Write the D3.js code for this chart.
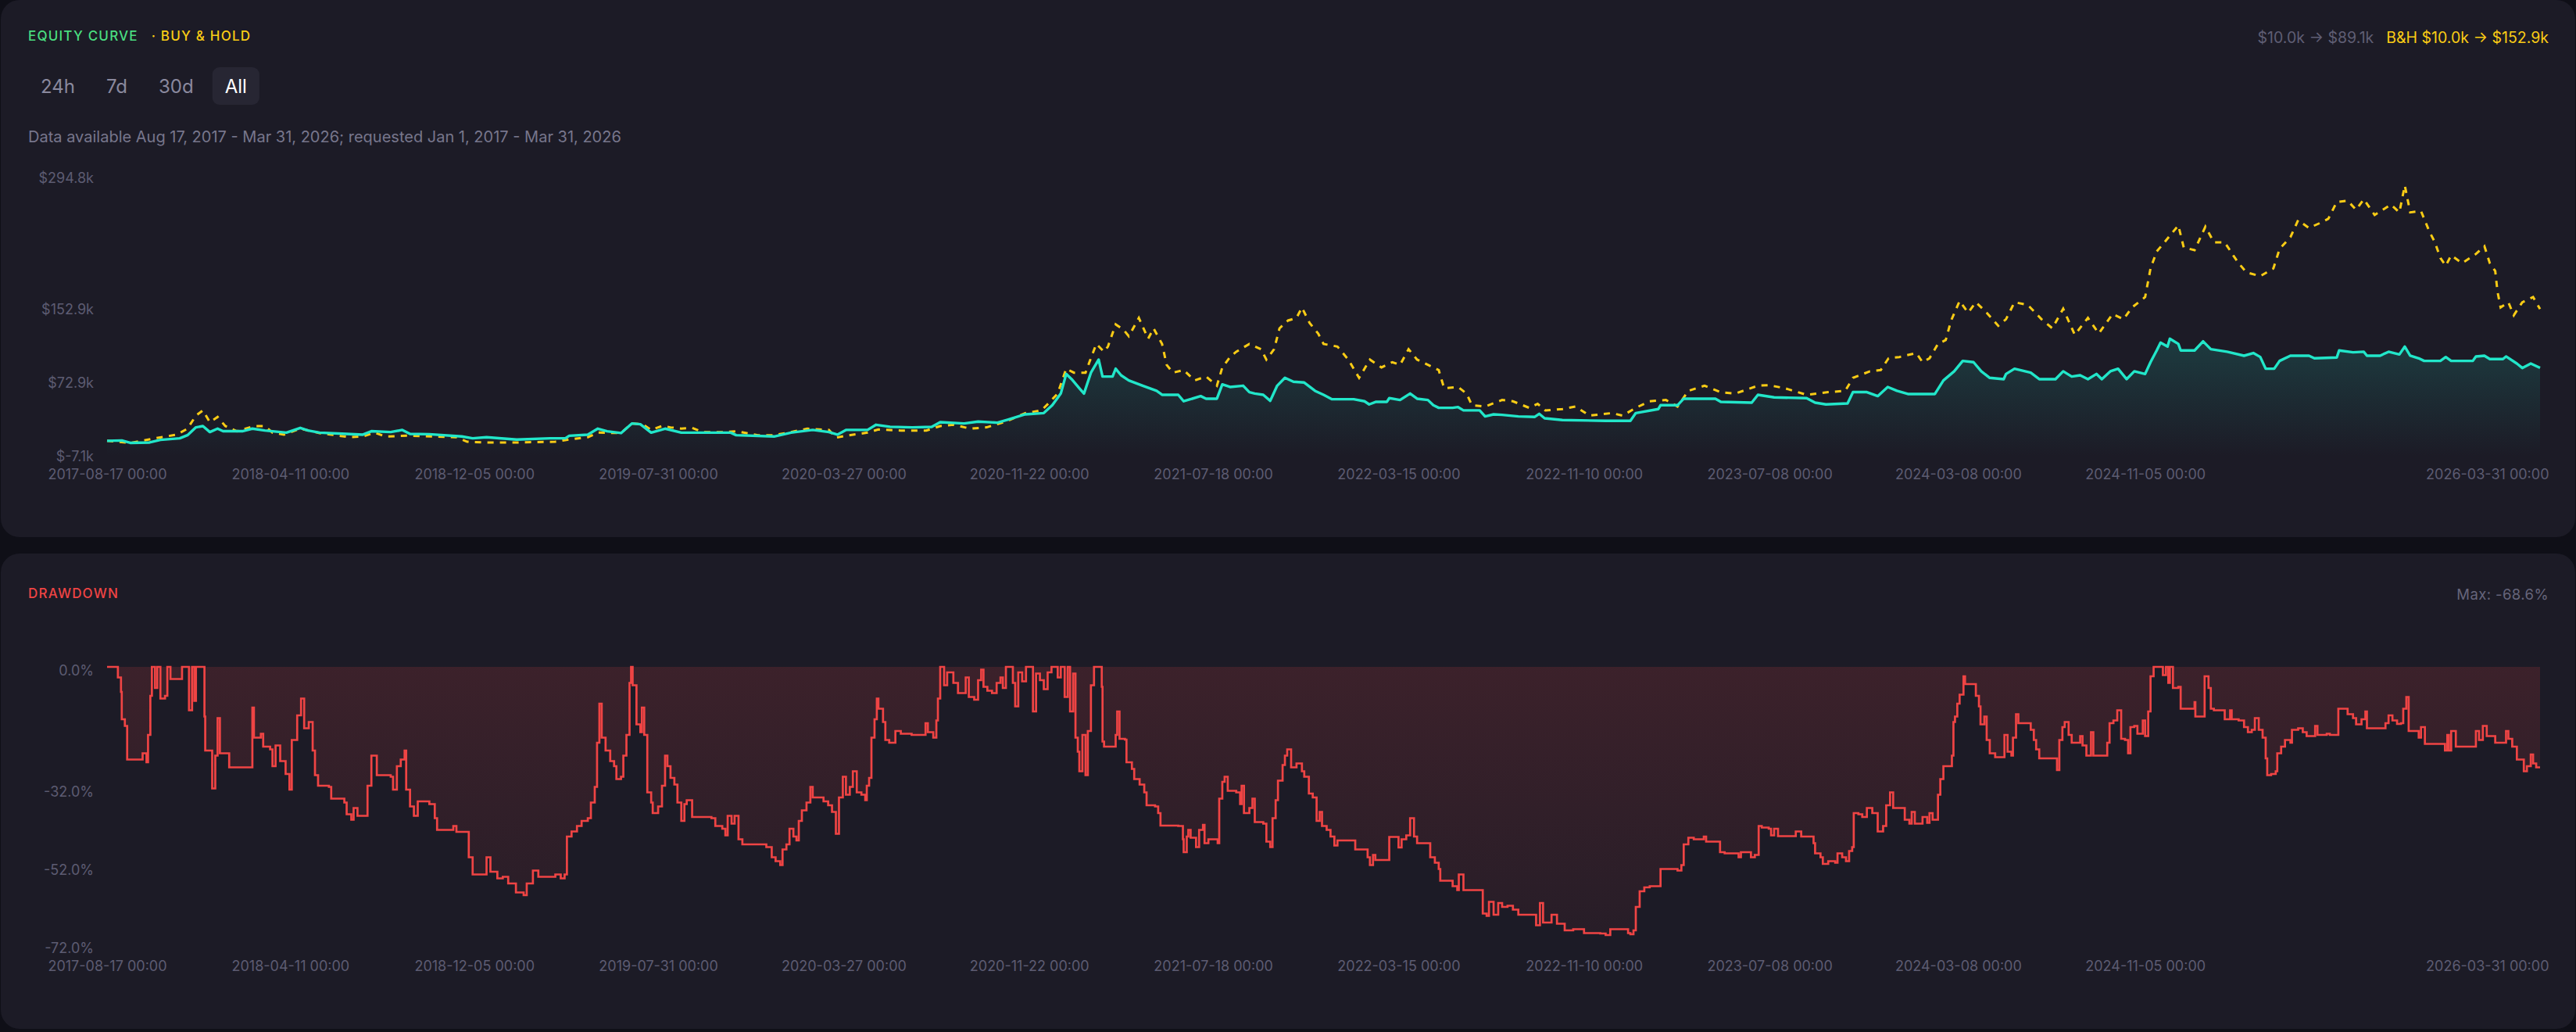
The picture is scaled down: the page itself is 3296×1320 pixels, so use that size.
<!DOCTYPE html>
<html>
<head>
<meta charset="utf-8">
<script src="https://cdn.jsdelivr.net/npm/d3@7"></script>
<style>
  html, body { margin: 0; padding: 0; background: #0f0f17; }
  svg { display: block; font-family: Inter, "Noto Sans", sans-serif; }
</style>
</head>
<body>
<div id="chart"></div>
<script>
// ---- data ----
// every point is [days since first day, value]
var firstDay = "2017-08-17";
var lastDay = "2026-03-31";
var xTickDates = ["2017-08-17", "2018-04-11", "2018-12-05", "2019-07-31", "2020-03-27", "2020-11-22",
  "2021-07-18", "2022-03-15", "2022-11-10", "2023-07-08", "2024-03-08", "2024-11-05", "2026-03-31"];
var equityTicks = [-7.1, 72.9, 152.9, 294.8];   // $k
var ddTicks = [0, -32, -52, -72];               // %
var rangeButtons = ["24h", "7d", "30d", "All"];
var activeRange = "All";

// strategy equity, $k
var equityCurve = [
  [0,10.0],[19,10.4],[30,7.8],[55,8.2],[69,11.0],[94,12.7],[104,16.1],[115,24.6],[124,26.0],[133,19.5],
  [143,23.2],[150,20.4],[175,20.4],[188,23.2],[204,21.2],[232,18.9],[250,24.0],[260,21.2],[275,18.9],[310,17.5],
  [331,16.7],[342,20.4],[367,19.5],[382,21.8],[392,17.5],[417,17.2],[459,14.7],[473,12.7],[491,13.9],[530,11.3],
  [573,12.7],[593,12.7],[598,15.5],[622,16.7],[635,23.2],[647,20.4],[665,18.4],[679,28.8],[690,28.0],[704,18.9],
  [722,23.2],[743,18.9],[807,18.9],[814,16.1],[863,14.7],[885,18.9],[913,21.8],[934,19.5],[945,16.7],[956,21.8],
  [984,21.8],[995,27.4],[1013,25.2],[1042,24.6],[1067,25.1],[1078,30.2],[1109,28.8],[1127,30.8],[1152,29.7],[1166,33.1],
  [1188,38.7],[1212,40.1],[1223,48.6],[1234,61.3],[1241,82.5],[1248,76.9],[1258,67.0],[1264,61.3],[1273,83.9],[1283,98.1],
  [1288,79.7],[1301,79.7],[1305,88.2],[1312,81.1],[1322,75.5],[1340,69.8],[1358,64.2],[1365,59.9],[1386,59.9],[1393,52.9],
  [1415,58.5],[1422,55.7],[1436,55.7],[1443,71.2],[1453,68.4],[1470,69.8],[1478,62.7],[1485,61.3],[1496,59.9],[1505,53.4],
  [1514,69.8],[1524,78.3],[1535,74.1],[1549,73.2],[1563,64.2],[1574,59.9],[1585,55.1],[1613,55.1],[1627,52.9],[1633,49.5],
  [1642,52.3],[1656,52.3],[1659,56.3],[1673,54.3],[1686,61.3],[1695,55.7],[1709,54.3],[1716,48.6],[1723,45.8],[1741,45.8],
  [1748,46.6],[1755,43.0],[1776,43.0],[1783,36.5],[1794,38.7],[1805,38.2],[1826,36.5],[1847,35.9],[1853,39.3],[1860,34.5],
  [1883,32.5],[1939,31.7],[1971,31.7],[1978,40.1],[2007,44.4],[2010,48.6],[2032,48.6],[2040,55.7],[2081,55.7],[2088,52.3],
  [2128,51.4],[2136,59.9],[2157,57.1],[2199,56.3],[2210,51.4],[2224,49.5],[2252,50.6],[2259,62.8],[2277,62.8],[2291,58.5],
  [2304,68.4],[2316,64.2],[2330,60.8],[2365,60.8],[2376,75.5],[2390,85.4],[2401,96.7],[2415,95.3],[2425,85.4],[2436,78.3],
  [2454,76.9],[2457,82.5],[2468,88.2],[2489,83.9],[2500,76.9],[2521,76.9],[2531,85.4],[2542,79.7],[2553,81.1],[2563,76.9],
  [2574,82.5],[2581,76.9],[2592,85.4],[2602,88.2],[2613,76.9],[2623,85.4],[2637,82.5],[2644,95.3],[2652,108.0],[2657,116.5],
  [2666,112.2],[2669,120.7],[2680,115.1],[2683,108.0],[2701,108.0],[2712,117.9],[2722,109.4],[2743,106.6],[2765,102.3],[2777,105.2],
  [2786,100.9],[2793,88.2],[2804,88.2],[2811,96.7],[2825,102.3],[2849,102.3],[2856,99.5],[2885,100.4],[2888,108.0],[2906,106.0],
  [2920,106.6],[2924,102.3],[2941,102.3],[2952,106.6],[2966,103.7],[2973,112.2],[2980,102.3],[2991,99.5],[2998,96.7],[3019,96.7],
  [3026,100.9],[3033,96.7],[3061,96.7],[3065,101.5],[3076,102.3],[3083,98.7],[3100,98.7],[3104,101.5],[3118,93.8],[3125,89.0],
  [3136,93.8],[3148,89.1]
];

// buy & hold, $k
var buyHold = [
  [0,10.0],[30,7.6],[62,12.7],[90,16.7],[104,23.2],[115,37.3],[124,43.0],[133,30.2],[143,35.9],[153,26.0],
  [168,20.4],[190,26.0],[204,26.0],[214,18.9],[229,16.7],[250,23.2],[275,18.4],[314,13.9],[331,14.7],[346,18.9],
  [360,14.7],[388,15.5],[424,14.7],[452,13.9],[466,9.0],[488,8.2],[530,8.2],[580,9.0],[594,11.0],[622,13.9],
  [635,18.9],[665,18.4],[679,28.8],[693,28.0],[704,21.8],[718,26.0],[729,24.6],[743,23.2],[757,24.0],[771,19.5],
  [800,19.5],[814,20.4],[842,16.1],[863,16.1],[885,19.5],[906,23.2],[934,21.8],[943,13.3],[956,15.5],[984,18.9],
  [998,22.3],[1027,21.2],[1060,21.2],[1078,26.0],[1095,27.4],[1117,23.2],[1138,24.6],[1163,30.8],[1188,40.1],[1209,43.0],
  [1219,51.4],[1230,61.3],[1241,88.2],[1251,83.9],[1266,83.9],[1271,95.3],[1280,115.1],[1290,106.6],[1295,112.2],[1305,136.3],
  [1315,130.6],[1322,123.5],[1335,143.3],[1347,120.7],[1354,132.0],[1365,115.1],[1371,92.4],[1379,83.9],[1393,86.8],[1407,75.5],
  [1422,79.7],[1436,69.8],[1443,89.6],[1453,100.9],[1461,106.6],[1478,115.1],[1493,109.4],[1500,98.1],[1510,109.4],[1517,132.0],
  [1528,140.5],[1539,143.3],[1546,154.6],[1556,137.7],[1567,126.4],[1574,115.1],[1592,112.2],[1606,98.1],[1620,78.3],[1634,98.1],
  [1649,89.6],[1663,95.3],[1673,92.4],[1684,109.4],[1695,98.1],[1709,92.4],[1723,86.8],[1730,67.0],[1748,68.4],[1759,61.3],
  [1766,48.6],[1783,47.2],[1805,54.3],[1819,52.9],[1840,45.8],[1851,50.1],[1861,43.0],[1883,44.4],[1900,47.2],[1918,37.3],
  [1947,40.1],[1961,37.3],[1978,45.8],[1996,52.9],[2017,54.3],[2032,47.2],[2046,64.2],[2067,69.8],[2088,62.7],[2107,61.3],
  [2136,69.8],[2150,70.4],[2171,67.0],[2199,59.9],[2227,62.8],[2249,64.2],[2259,78.3],[2281,85.4],[2295,86.8],[2305,99.5],
  [2319,100.9],[2341,105.2],[2349,95.3],[2358,99.5],[2369,115.1],[2379,119.3],[2386,140.5],[2397,161.7],[2408,149.0],[2418,160.3],
  [2432,149.0],[2447,134.8],[2457,141.9],[2468,160.3],[2485,157.5],[2503,141.9],[2517,132.0],[2531,153.2],[2546,125.0],[2563,143.3],
  [2577,126.4],[2595,147.6],[2609,141.9],[2620,154.6],[2637,165.9],[2644,197.0],[2652,215.4],[2662,225.3],[2680,243.7],[2687,219.7],
  [2701,216.8],[2715,242.3],[2726,225.3],[2740,225.3],[2751,211.2],[2758,202.7],[2768,192.8],[2786,188.6],[2803,197.0],[2811,218.2],
  [2825,230.9],[2835,249.3],[2849,240.9],[2864,246.5],[2874,250.8],[2885,269.1],[2899,270.5],[2910,260.6],[2920,272.0],[2934,255.0],
  [2955,266.3],[2966,257.8],[2973,287.0],[2980,257.8],[2994,259.2],[3005,236.6],[3012,225.3],[3019,208.4],[3026,199.9],[3033,211.2],
  [3047,202.7],[3065,212.6],[3076,221.1],[3083,202.7],[3090,194.2],[3093,171.6],[3097,154.6],[3107,160.3],[3114,146.2],[3125,160.3],
  [3139,165.9],[3148,152.9]
];

// strategy drawdown, %
var drawdown = [
  [0,0],[12,0],[14,-2.7],[18,-6.4],[19,-13.4],[23,-15.1],[26,-23.7],[44,-23.7],[46,-22.1],[51,-24.4],
  [53,-17.4],[56,-7.4],[58,0],[62,-5.4],[65,0],[69,-8.1],[75,-7.4],[78,0],[82,-3.1],[94,-3.1],
  [97,0],[104,0],[106,-11.1],[110,0],[113,-8.7],[115,0],[120,0],[126,-12.7],[127,-21.4],[133,-21.4],
  [136,-31.1],[140,-22.7],[143,-13.1],[146,-22.1],[155,-22.1],[158,-25.7],[183,-25.7],[188,-10.4],[190,-18.1],[199,-17.1],
  [202,-20.4],[211,-21.1],[214,-25.4],[218,-20.1],[224,-24.1],[231,-27.4],[236,-31.4],[239,-18.7],[246,-12.4],[251,-8.1],
  [255,-15.7],[261,-14.1],[266,-21.4],[269,-27.7],[273,-30.4],[287,-30.7],[290,-33.7],[307,-34.7],[310,-37.7],[316,-39.1],
  [319,-36.1],[324,-38.1],[335,-38.1],[337,-30.4],[342,-22.7],[349,-27.7],[367,-28.1],[370,-31.4],[375,-25.4],[380,-23.7],
  [385,-21.4],[387,-31.4],[392,-35.7],[397,-38.1],[402,-34.4],[417,-35.1],[424,-38.7],[427,-41.7],[445,-41.7],[448,-40.7],
  [452,-42.2],[465,-42.2],[468,-48.7],[473,-53.1],[488,-53.1],[491,-48.7],[496,-52.4],[505,-54.1],[512,-53.7],[519,-55.4],
  [529,-57.7],[539,-58.4],[543,-55.4],[551,-52.1],[558,-53.7],[580,-53.1],[587,-54.1],[592,-53.1],[595,-43.4],[601,-42.1],
  [608,-40.7],[614,-39.4],[622,-38.7],[626,-34.7],[631,-30.7],[634,-19.4],[637,-9.4],[640,-18.1],[645,-21.4],[651,-24.1],
  [656,-25.4],[659,-28.7],[665,-28.1],[668,-22.7],[672,-17.4],[676,-4.1],[678,0],[680,-4.7],[685,-14.7],[690,-16.7],
  [692,-10.4],[695,-17.4],[699,-32.1],[704,-34.7],[706,-37.4],[713,-35.7],[718,-30.4],[722,-22.7],[725,-25.4],[729,-28.4],
  [734,-30.1],[738,-34.7],[743,-39.4],[747,-35.1],[750,-34.1],[757,-38.4],[782,-38.7],[787,-40.7],[796,-41.4],[800,-43.1],
  [803,-38.1],[808,-40.1],[812,-38.1],[817,-44.1],[822,-45.4],[853,-46.1],[860,-48.7],[865,-49.7],[871,-50.7],[874,-46.7],
  [879,-45.4],[883,-41.4],[888,-43.4],[892,-44.4],[895,-39.4],[899,-36.7],[905,-34.7],[910,-30.7],[913,-33.4],[927,-34.4],
  [933,-35.4],[938,-37.1],[943,-42.7],[947,-33.4],[952,-28.1],[956,-32.7],[961,-30.7],[965,-26.7],[970,-32.1],[976,-32.7],
  [981,-34.1],[983,-30.4],[986,-28.4],[989,-18.1],[993,-13.4],[996,-8.1],[998,-10.7],[1004,-14.1],[1007,-18.7],[1012,-19.4],
  [1020,-16.4],[1027,-17.1],[1041,-17.4],[1055,-17.4],[1059,-14.4],[1062,-16.7],[1069,-18.1],[1073,-13.7],[1075,-8.1],[1078,0],
  [1083,-4.7],[1087,-1.4],[1095,-4.1],[1101,-6.7],[1108,-6.7],[1111,-2.7],[1115,-7.7],[1122,-8.4],[1127,-3.4],[1131,-0.7],
  [1134,-5.1],[1139,-6.1],[1145,-6.7],[1151,-4.1],[1156,-2.7],[1159,-5.4],[1163,0],[1170,0],[1172,-4.1],[1175,-10.1],
  [1179,-1.4],[1184,-3.7],[1189,0],[1196,0],[1198,-11.4],[1202,-1.7],[1207,-3.4],[1212,-5.7],[1217,-1.4],[1222,0],
  [1230,-2.7],[1234,0],[1239,-7.7],[1243,0],[1246,-11.4],[1250,-1.7],[1253,-18.1],[1256,-21.7],[1258,-26.7],[1262,-17.4],
  [1266,-27.7],[1269,-16.4],[1273,-4.7],[1277,0],[1284,0],[1287,-5.1],[1288,-19.1],[1290,-20.4],[1301,-20.4],[1305,-17.4],
  [1307,-11.4],[1310,-18.4],[1317,-18.6],[1319,-24.4],[1326,-26.1],[1329,-28.7],[1336,-30.1],[1342,-32.1],[1345,-35.4],[1356,-35.7],
  [1360,-37.4],[1363,-40.6],[1386,-40.7],[1392,-44.1],[1393,-47.4],[1397,-43.4],[1399,-41.7],[1402,-43.7],[1409,-46.1],[1413,-41.7],
  [1418,-40.4],[1420,-45.1],[1425,-44.1],[1437,-45.1],[1439,-33.7],[1443,-29.4],[1446,-28.1],[1450,-31.7],[1461,-32.1],[1466,-35.1],
  [1468,-30.4],[1471,-37.4],[1478,-36.1],[1482,-33.7],[1485,-39.7],[1496,-40.1],[1500,-44.7],[1505,-46.1],[1508,-38.7],[1512,-34.1],
  [1515,-29.1],[1521,-25.1],[1524,-22.7],[1527,-21.1],[1532,-25.7],[1539,-24.7],[1546,-26.7],[1549,-28.1],[1555,-32.4],[1560,-33.4],
  [1565,-39.4],[1569,-37.1],[1572,-40.7],[1578,-41.7],[1583,-43.4],[1588,-45.7],[1592,-44.4],[1610,-44.4],[1615,-46.7],[1627,-46.7],
  [1631,-48.7],[1634,-50.7],[1638,-48.1],[1641,-49.4],[1656,-49.4],[1659,-43.5],[1671,-46.2],[1675,-44.1],[1681,-43.1],[1686,-38.7],
  [1691,-43.4],[1695,-45.1],[1709,-45.1],[1712,-48.7],[1718,-50.1],[1723,-51.7],[1725,-54.7],[1737,-54.7],[1741,-56.1],[1747,-57.1],
  [1749,-53.1],[1755,-57.1],[1775,-57.1],[1780,-63.1],[1785,-63.7],[1788,-60.1],[1794,-63.4],[1800,-60.4],[1805,-61.4],[1812,-61.1],
  [1819,-62.1],[1826,-63.4],[1846,-63.4],[1849,-66.1],[1854,-60.4],[1858,-65.4],[1869,-63.4],[1876,-65.7],[1886,-67.4],[1897,-67.1],
  [1911,-68.1],[1932,-68.2],[1939,-68.6],[1945,-67.1],[1968,-68.1],[1971,-68.4],[1975,-67.4],[1978,-61.4],[1983,-57.4],[1989,-56.4],
  [1996,-56.1],[2009,-56.1],[2010,-51.7],[2032,-52.1],[2037,-50.7],[2040,-45.4],[2046,-43.7],[2053,-44.1],[2066,-43.4],[2069,-44.7],
  [2081,-44.7],[2087,-47.4],[2093,-47.7],[2107,-47.7],[2111,-48.7],[2114,-47.4],[2127,-48.7],[2132,-48.1],[2137,-40.7],[2141,-41.1],
  [2150,-41.4],[2153,-43.1],[2157,-41.4],[2162,-43.3],[2184,-43.3],[2185,-42.1],[2192,-43.4],[2203,-43.4],[2208,-45.1],[2210,-47.7],
  [2217,-48.7],[2220,-50.4],[2227,-49.7],[2236,-50.1],[2239,-47.7],[2245,-48.7],[2250,-49.7],[2254,-47.1],[2258,-46.1],[2260,-37.4],
  [2266,-37.7],[2271,-38.4],[2277,-36.1],[2284,-37.4],[2291,-42.1],[2298,-40.7],[2302,-35.4],[2307,-32.1],[2311,-36.1],[2319,-36.1],
  [2326,-39.1],[2332,-40.1],[2335,-37.1],[2339,-40.1],[2349,-38.4],[2355,-39.9],[2358,-37.4],[2362,-39.1],[2367,-39.1],[2369,-32.7],
  [2372,-28.7],[2376,-25.4],[2384,-25.4],[2387,-22.7],[2389,-14.1],[2391,-12.7],[2394,-9.4],[2397,-7.1],[2402,-2.4],[2404,-4.4],
  [2415,-4.4],[2418,-7.4],[2422,-10.1],[2424,-14.7],[2429,-12.7],[2432,-18.7],[2436,-22.1],[2443,-23.1],[2454,-23.1],[2455,-17.4],
  [2459,-21.7],[2464,-22.7],[2466,-18.1],[2470,-12.1],[2473,-14.4],[2485,-14.4],[2489,-16.1],[2493,-18.7],[2496,-21.1],[2500,-23.4],
  [2521,-23.4],[2523,-26.4],[2526,-18.7],[2530,-15.4],[2533,-14.1],[2538,-17.4],[2542,-19.4],[2549,-19.4],[2553,-17.7],[2556,-20.1],
  [2561,-22.7],[2567,-16.7],[2570,-22.7],[2584,-22.7],[2588,-19.4],[2591,-14.4],[2596,-13.7],[2601,-11.1],[2606,-18.4],[2611,-18.7],
  [2615,-22.1],[2618,-15.4],[2623,-15.1],[2627,-17.1],[2630,-17.1],[2634,-13.7],[2637,-17.7],[2641,-11.4],[2644,-2.4],[2648,0],
  [2655,0],[2660,-2.1],[2664,0],[2667,-4.1],[2669,0],[2673,-5.4],[2680,-5.1],[2683,-10.7],[2698,-10.7],[2701,-9.0],
  [2702,-12.7],[2708,-12.7],[2714,-2.4],[2719,-5.4],[2722,-10.7],[2726,-11.1],[2736,-11.1],[2740,-13.4],[2747,-11.1],[2749,-13.4],
  [2758,-13.7],[2765,-15.4],[2770,-16.7],[2775,-16.1],[2779,-13.1],[2784,-16.1],[2789,-18.1],[2793,-23.4],[2795,-27.7],[2800,-27.4],
  [2806,-26.7],[2808,-22.1],[2813,-20.4],[2818,-18.7],[2825,-19.4],[2827,-16.1],[2835,-15.7],[2841,-16.7],[2846,-17.7],[2853,-17.7],
  [2857,-15.1],[2860,-17.4],[2872,-17.1],[2876,-17.4],[2885,-17.4],[2887,-10.7],[2892,-10.7],[2899,-12.1],[2906,-13.1],[2910,-14.7],
  [2917,-13.4],[2922,-11.4],[2924,-15.7],[2941,-15.7],[2948,-14.4],[2952,-12.4],[2957,-13.7],[2963,-14.6],[2968,-14.4],[2971,-10.7],
  [2975,-7.7],[2978,-16.4],[2987,-16.4],[2991,-18.1],[2994,-15.4],[2999,-19.7],[3021,-19.7],[3025,-21.4],[3028,-17.4],[3030,-21.4],
  [3033,-16.4],[3039,-20.4],[3062,-20.4],[3065,-16.4],[3069,-18.7],[3074,-15.1],[3079,-17.7],[3088,-17.7],[3090,-19.4],[3100,-19.4],
  [3104,-16.4],[3107,-18.4],[3112,-20.4],[3118,-23.7],[3124,-23.7],[3127,-26.7],[3131,-25.4],[3136,-22.4],[3139,-24.7],[3143,-25.7],
  [3148,-25.7]
];

// ---- layout ----
var W = 3296, H = 1320;
var padL = 36, padR = 3261;
var parseDate = d3.timeParse("%Y-%m-%d");
var start = parseDate(firstDay);
function dayToDate(n) { return d3.timeDay.offset(start, n); }

var svg = d3.select("#chart").append("svg")
    .attr("width", W)
    .attr("height", H);

var defs = svg.append("defs");

// panels
svg.append("rect").attr("x", 1).attr("y", 0).attr("width", W - 2).attr("height", 687)
    .attr("rx", 24).attr("fill", "#1c1b26");
svg.append("rect").attr("x", 1).attr("y", 708).attr("width", W - 2).attr("height", 608)
    .attr("rx", 24).attr("fill", "#1c1b26");

var x = d3.scaleTime()
    .domain([start, parseDate(lastDay)])
    .range([137, 3250]);

var yEq = d3.scaleLinear()
    .domain(d3.extent(equityTicks))
    .range([584, 228]);

var yDd = d3.scaleLinear()
    .domain(d3.extent(ddTicks))
    .range([1213, 853]);

var fmtK = function(v) { return "$" + v.toFixed(1) + "k"; };

// ---- top header ----
var head = svg.append("text").attr("x", padL).attr("y", 46)
    .attr("dominant-baseline", "central")
    .style("font-size", "17px").style("letter-spacing", "1.2px").style("font-weight", 500);
head.append("tspan").attr("fill", "#4ade80").text("EQUITY CURVE");
head.append("tspan").attr("fill", "#facc15").attr("dx", 17).text("· BUY & HOLD");

var summary = svg.append("text").attr("x", padR).attr("y", 48)
    .attr("text-anchor", "end").attr("dominant-baseline", "central")
    .style("font-size", "19.5px");
summary.append("tspan").attr("fill", "#5f5e74")
    .text(fmtK(equityCurve[0][1]) + " → " + fmtK(equityCurve[equityCurve.length - 1][1]));
summary.append("tspan").attr("fill", "#facc15").attr("dx", 16)
    .text("B&H " + fmtK(buyHold[0][1]) + " → " + fmtK(buyHold[buyHold.length - 1][1]));

// range buttons
var bx = padL;
rangeButtons.forEach(function(lbl) {
  var g = svg.append("g");
  var t = g.append("text").attr("x", bx + 16).attr("y", 110)
      .attr("dominant-baseline", "central")
      .style("font-size", "24px")
      .attr("fill", lbl === activeRange ? "#ffffff" : "#8a899e")
      .text(lbl);
  var w = t.node().getComputedTextLength() + 32;
  if (lbl === activeRange) {
    g.insert("rect", "text").attr("x", bx).attr("y", 86).attr("width", w).attr("height", 48)
        .attr("rx", 9).attr("fill", "#272633");
  }
  bx += w + 8;
});

svg.append("text").attr("x", padL).attr("y", 175)
    .attr("dominant-baseline", "central")
    .style("font-size", "20px").attr("fill", "#77768c")
    .text("Data available Aug 17, 2017 - Mar 31, 2026; requested Jan 1, 2017 - Mar 31, 2026");

// ---- axes helpers ----
function styleAxis(g) {
  g.attr("font-family", null).attr("font-size", null);
  g.select(".domain").remove();
  g.selectAll("line").remove();
  g.selectAll("text").attr("fill", "#5d5c72").style("font-size", "18px");
}

function drawXAxis(yPos) {
  var g = svg.append("g")
      .attr("transform", "translate(0," + yPos + ")")
      .call(d3.axisBottom(x)
        .tickValues(xTickDates.map(parseDate))
        .tickFormat(d3.timeFormat("%Y-%m-%d %H:%M"))
        .tickSize(0).tickPadding(0));
  styleAxis(g);
  g.selectAll("text").attr("y", 0).attr("dy", "0.35em");
  // keep the last label inside the panel
  var lastTick = g.selectAll(".tick").filter(function(d, i, n) { return i === n.length - 1; });
  var lastX = x(parseDate(xTickDates[xTickDates.length - 1]));
  lastTick.select("text").attr("text-anchor", "end").attr("x", padR - lastX);
}

function drawYAxis(scale, ticks, fmt) {
  var g = svg.append("g")
      .attr("transform", "translate(120,0)")
      .call(d3.axisLeft(scale).tickValues(ticks).tickFormat(fmt).tickSize(0).tickPadding(0));
  styleAxis(g);
  return g;
}

// ---- equity chart ----
drawYAxis(yEq, equityTicks, fmtK);
drawXAxis(607);

var eqMax = d3.max(equityCurve, function(d) { return d[1]; });
var eqGrad = defs.append("linearGradient").attr("id", "eqFill")
    .attr("gradientUnits", "userSpaceOnUse")
    .attr("x1", 0).attr("x2", 0).attr("y1", yEq(eqMax)).attr("y2", yEq(equityTicks[0]));
eqGrad.append("stop").attr("offset", 0).attr("stop-color", "#22e6c9").attr("stop-opacity", 0.16);
eqGrad.append("stop").attr("offset", 1).attr("stop-color", "#22e6c9").attr("stop-opacity", 0);

var eqArea = d3.area()
    .x(function(d) { return x(dayToDate(d[0])); })
    .y0(yEq(equityTicks[0]))
    .y1(function(d) { return yEq(d[1]); });

svg.append("path").datum(equityCurve)
    .attr("d", eqArea)
    .attr("fill", "url(#eqFill)");

var eqLine = d3.line()
    .x(function(d) { return x(dayToDate(d[0])); })
    .y(function(d) { return yEq(d[1]); });

svg.append("path").datum(buyHold)
    .attr("d", eqLine)
    .attr("fill", "none")
    .attr("stroke", "#facc15")
    .attr("stroke-width", 3)
    .attr("stroke-dasharray", "8,8");

svg.append("path").datum(equityCurve)
    .attr("d", eqLine)
    .attr("fill", "none")
    .attr("stroke", "#22e6c9")
    .attr("stroke-width", 3.4)
    .attr("stroke-linejoin", "round");

// ---- drawdown chart ----
svg.append("text").attr("x", padL).attr("y", 759)
    .attr("dominant-baseline", "central")
    .style("font-size", "17px").style("letter-spacing", "1.2px").style("font-weight", 500)
    .attr("fill", "#ef4444")
    .text("DRAWDOWN");

var ddMin = d3.min(drawdown, function(d) { return d[1]; });
svg.append("text").attr("x", padR).attr("y", 760)
    .attr("text-anchor", "end").attr("dominant-baseline", "central")
    .style("font-size", "18.5px").style("letter-spacing", "0.4px").attr("fill", "#66657b")
    .text("Max: " + ddMin.toFixed(1) + "%");

var ddAxis = drawYAxis(yDd, ddTicks, function(v) { return v.toFixed(1) + "%"; });
// top label sits slightly below its line, as in the reference
ddAxis.selectAll(".tick").filter(function(d) { return d === 0; }).select("text").attr("y", 5);
drawXAxis(1236);

var ddGrad = defs.append("linearGradient").attr("id", "ddFill")
    .attr("gradientUnits", "userSpaceOnUse")
    .attr("x1", 0).attr("x2", 0).attr("y1", yDd(0)).attr("y2", yDd(ddTicks[ddTicks.length - 1]));
ddGrad.append("stop").attr("offset", 0).attr("stop-color", "#ef4444").attr("stop-opacity", 0.15);
ddGrad.append("stop").attr("offset", 1).attr("stop-color", "#ef4444").attr("stop-opacity", 0.05);

var ddArea = d3.area()
    .curve(d3.curveStepAfter)
    .x(function(d) { return x(dayToDate(d[0])); })
    .y0(yDd(0))
    .y1(function(d) { return yDd(d[1]); });

svg.append("path").datum(drawdown)
    .attr("d", ddArea)
    .attr("fill", "url(#ddFill)");

var ddLine = d3.line()
    .curve(d3.curveStepAfter)
    .x(function(d) { return x(dayToDate(d[0])); })
    .y(function(d) { return yDd(d[1]); });

svg.append("path").datum(drawdown)
    .attr("d", ddLine)
    .attr("fill", "none")
    .attr("stroke", "#ef4444")
    .attr("stroke-width", 2.7);
</script>
</body>
</html>
